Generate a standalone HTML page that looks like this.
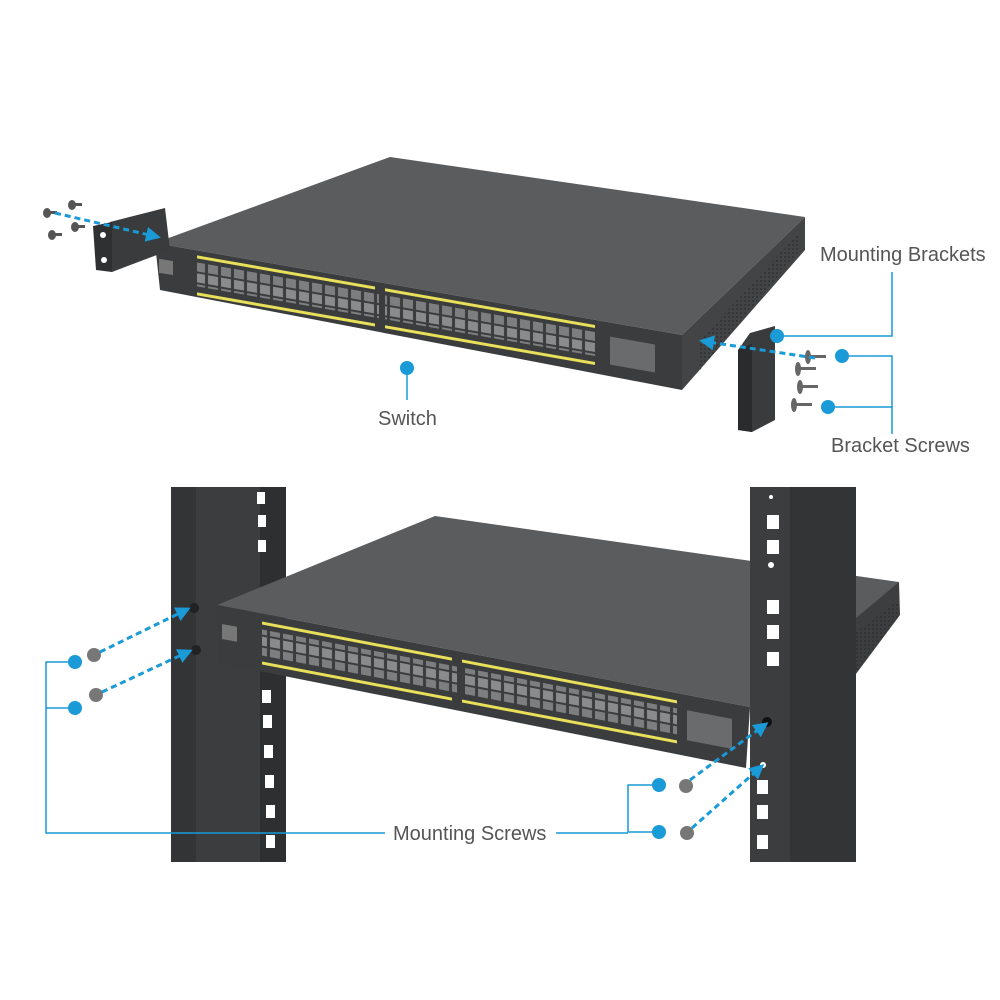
<!DOCTYPE html>
<html><head><meta charset="utf-8"><style>
html,body{margin:0;padding:0;background:#fff;}
svg{display:block;}
text{font-family:"Liberation Sans",sans-serif;fill:#555;font-size:20px;}
</style></head><body>
<svg width="1000" height="1000" viewBox="0 0 1000 1000" xmlns="http://www.w3.org/2000/svg">
<defs>
<marker id="ar" viewBox="0 0 10 10" refX="8" refY="5" markerWidth="5" markerHeight="5" orient="auto"><path d="M0,0 L10,5 L0,10 z" fill="#1a9ad6"/></marker>
<pattern id="ports" width="13" height="22" patternUnits="userSpaceOnUse">
<rect x="1" y="1" width="10" height="9" fill="#8a8b8d"/><rect x="1" y="12" width="10" height="9" fill="#7d7e80"/>
</pattern>
<pattern id="vent" width="4" height="4" patternUnits="userSpaceOnUse"><rect width="2" height="2" fill="#2c2d2f"/></pattern>
</defs>

<polygon points="155,243 390,157 805,217 682,335" fill="#5b5c5e"/>
<polygon points="682,335 805,217 805,250 682,390" fill="#434446"/>
<polygon points="700,340 800,232 800,250 700,370" fill="url(#vent)" opacity="0.6"/>
<polygon points="155,243 682,335 682,390 160,290" fill="#3b3c3e"/>
<g transform="matrix(1,0.175,0,1,155,243)">
 <rect x="4" y="15" width="14" height="14" fill="#777"/>
 <rect x="42" y="5" width="178" height="3" fill="#e8e05a"/>
 <rect x="42" y="42" width="178" height="3" fill="#e8e05a"/>
 <rect x="230" y="5" width="210" height="3" fill="#e8e05a"/>
 <rect x="230" y="42" width="210" height="3" fill="#e8e05a"/>
 <rect x="42" y="12" width="182" height="24" fill="url(#ports)"/>
 <rect x="230" y="12" width="210" height="24" fill="url(#ports)"/>
 <rect x="455" y="14" width="45" height="28" fill="#6a6b6d"/>
</g>

<polygon points="110,222 165,208 170,250 112,272" fill="#3a3b3d"/>
<polygon points="93,226 112,222 112,272 96,270" fill="#2f3032"/>
<circle cx="103" cy="235" r="3" fill="#fff"/><circle cx="104" cy="260" r="3" fill="#fff"/>
<g fill="#555"><ellipse cx="47" cy="213" rx="4" ry="5"/><rect x="47" y="211" width="10" height="3"/>
<ellipse cx="72" cy="205" rx="4" ry="5"/><rect x="72" y="203" width="10" height="3"/>
<ellipse cx="52" cy="235" rx="4" ry="5"/><rect x="52" y="233" width="10" height="3"/>
<ellipse cx="75" cy="227" rx="4" ry="5"/><rect x="75" y="225" width="10" height="3"/></g>
<line x1="55" y1="213" x2="158" y2="237" stroke="#1a9ad6" stroke-width="3" stroke-dasharray="6,4" marker-end="url(#ar)"/>

<polygon points="750,333 775,326 775,420 752,432 738,430 738,350" fill="#3a3b3d"/>
<polygon points="738,350 752,344 752,432 738,430" fill="#2a2b2d"/>
<g fill="#666"><rect x="808" y="355" width="18" height="3"/><ellipse cx="808" cy="357" rx="3" ry="7"/>
<rect x="798" y="367" width="18" height="3"/><ellipse cx="798" cy="369" rx="3" ry="7"/>
<rect x="800" y="385" width="18" height="3"/><ellipse cx="800" cy="387" rx="3" ry="7"/>
<rect x="794" y="403" width="18" height="3"/><ellipse cx="794" cy="405" rx="3" ry="7"/></g>
<line x1="815" y1="358" x2="702" y2="341" stroke="#1a9ad6" stroke-width="3" stroke-dasharray="6,4" marker-end="url(#ar)"/>

<g stroke="#1a9ad6" stroke-width="1.5" fill="none">
<polyline points="777,336 892,336 892,272"/>
<polyline points="842,356 892,356 892,407 828,407"/>
<line x1="892" y1="407" x2="892" y2="434"/>
<line x1="407" y1="368" x2="407" y2="400"/>
</g>
<g fill="#1a9ad6"><circle cx="777" cy="336" r="7"/><circle cx="842" cy="356" r="7"/><circle cx="828" cy="407" r="7"/><circle cx="407" cy="368" r="7"/></g>
<text x="820" y="261">Mounting Brackets</text>
<text x="378" y="425">Switch</text>
<text x="831" y="452">Bracket Screws</text>

<rect x="171" y="487" width="92" height="375" fill="#3c3d3f"/>
<rect x="171" y="487" width="25" height="375" fill="#333436"/>
<rect x="260" y="487" width="26" height="375" fill="#2e2f31"/>
<g fill="#fff">
<rect x="257" y="492" width="8" height="12"/><rect x="258" y="515" width="8" height="12"/><rect x="258" y="540" width="8" height="12"/>
<rect x="262" y="690" width="9" height="13"/><rect x="263" y="715" width="9" height="13"/><rect x="264" y="745" width="9" height="13"/><rect x="265" y="775" width="9" height="13"/><rect x="266" y="805" width="9" height="13"/><rect x="266" y="835" width="9" height="13"/>
</g>
<polygon points="750,640 899,582 900,615 844,690 750,700" fill="#3d3e40"/>
<polygon points="846,640 899,600 899,615 846,685" fill="url(#vent)" opacity="0.6"/>
<polygon points="217,605 435,516 899,582 750,707" fill="#5b5c5e"/>
<polygon points="217,605 750,707 746,768 219,663" fill="#3b3c3e"/>
<g transform="matrix(1,0.19,0,1,217,605)">
 <rect x="5" y="18" width="15" height="15" fill="#777"/>
 <rect x="45" y="8" width="190" height="3" fill="#e8e05a"/>
 <rect x="45" y="48" width="190" height="3" fill="#e8e05a"/>
 <rect x="245" y="8" width="215" height="3" fill="#e8e05a"/>
 <rect x="245" y="48" width="215" height="3" fill="#e8e05a"/>
 <rect x="45" y="16" width="195" height="26" fill="url(#ports)"/>
 <rect x="245" y="16" width="215" height="26" fill="url(#ports)"/>
 <rect x="470" y="16" width="45" height="30" fill="#6a6b6d"/>
</g>
<rect x="750" y="487" width="106" height="375" fill="#3c3d3f"/>
<rect x="790" y="487" width="66" height="375" fill="#333436"/>
<g fill="#fff">
<rect x="767" y="515" width="12" height="14"/><rect x="767" y="540" width="12" height="14"/><rect x="767" y="600" width="12" height="14"/><rect x="767" y="625" width="12" height="14"/><rect x="767" y="652" width="12" height="14"/>
<rect x="757" y="780" width="11" height="14"/><rect x="757" y="805" width="11" height="14"/><rect x="757" y="835" width="11" height="14"/>
<circle cx="771" cy="497" r="2"/><circle cx="771" cy="565" r="3"/><circle cx="763" cy="765" r="3"/>
</g>
<circle cx="767" cy="722" r="5" fill="#111"/>
<circle cx="194" cy="608" r="5" fill="#222"/><circle cx="196" cy="650" r="5" fill="#222"/>

<g fill="#777"><circle cx="94" cy="655" r="7"/><circle cx="96" cy="695" r="7"/><circle cx="686" cy="786" r="7"/><circle cx="687" cy="833" r="7"/></g>
<g stroke="#1a9ad6" stroke-width="3" stroke-dasharray="6,4" fill="none">
<line x1="100" y1="652" x2="188" y2="609" marker-end="url(#ar)"/>
<line x1="102" y1="692" x2="190" y2="651" marker-end="url(#ar)"/>
<line x1="690" y1="780" x2="766" y2="724" marker-end="url(#ar)"/>
<line x1="692" y1="828" x2="762" y2="766" marker-end="url(#ar)"/>
</g>
<g stroke="#1a9ad6" stroke-width="1.5" fill="none">
<polyline points="75,662 46,662 46,833 385,833"/>
<line x1="46" y1="708" x2="75" y2="708"/>
<polyline points="659,785 628,785 628,832 659,832"/>
<line x1="556" y1="833" x2="628" y2="833"/>
</g>
<g fill="#1a9ad6"><circle cx="75" cy="662" r="7"/><circle cx="75" cy="708" r="7"/><circle cx="659" cy="785" r="7"/><circle cx="659" cy="832" r="7"/></g>
<text x="393" y="840">Mounting Screws</text>
</svg>
</body></html>
